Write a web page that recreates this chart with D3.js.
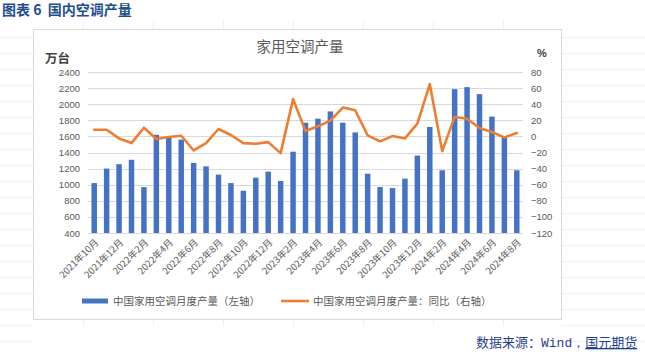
<!DOCTYPE html>
<html>
<head>
<meta charset="utf-8">
<script src="https://cdn.jsdelivr.net/npm/d3@7"></script>
<style>
  html, body { margin: 0; padding: 0; background: #fff; }
  svg { display: block; }
</style>
</head>
<body>
<svg id="chart" width="645" height="352"></svg>
<script>
const months = [
  "2021年10月","2021年11月","2021年12月","2022年1月","2022年2月","2022年3月","2022年4月","2022年5月",
  "2022年6月","2022年7月","2022年8月","2022年9月","2022年10月","2022年11月","2022年12月","2023年1月",
  "2023年2月","2023年3月","2023年4月","2023年5月","2023年6月","2023年7月","2023年8月","2023年9月",
  "2023年10月","2023年11月","2023年12月","2024年1月","2024年2月","2024年3月","2024年4月","2024年5月",
  "2024年6月","2024年7月","2024年8月"
];
const output = [
  1020, 1200, 1255, 1310, 970, 1620, 1595, 1560,
  1270, 1228, 1125, 1020, 925, 1087, 1162, 1046,
  1410, 1770, 1820, 1910, 1770, 1650, 1137, 971,
  958, 1075, 1362, 1717, 1179, 2187, 2212, 2125,
  1846, 1600, 1179
];
const yoy = [
  8.3, 8.3, -2.5, -8.3, 10.8, -3.3, -0.8, 0.8,
  -17.5, -8.3, 9.2, 1.7, -8.3, -9.2, -7.1, -20.8,
  46.3, 6.7, 12.5, 19.6, 35.8, 32.5, 1.2, -6.2,
  0.4, -2.5, 15.8, 65, -18.3, 24.2, 22, 10.4,
  5.4, -1.2, 4.2
];
const leftTicks = [400,600,800,1000,1200,1400,1600,1800,2000,2200,2400];
const rightTicks = [-120,-100,-80,-60,-40,-20,0,20,40,60,80];
const chartTitle = "家用空调产量";
const figureTitle = "图表 6  国内空调产量";
const seriesNames = ["中国家用空调月度产量（左轴）", "中国家用空调月度产量：同比（右轴）"];

const svg = d3.select("#chart");
const cjk = "'Noto Sans CJK SC', 'Noto Sans', sans-serif";
const num = "'Liberation Sans', Arial, sans-serif";
const textGray = "#595959";

// faint spreadsheet gridlines outside the chart frame
const sheet = svg.append("g").attr("stroke", "#f0f0f0").attr("stroke-width", 1);
d3.range(37, 352, 16).forEach(y => {
  sheet.append("line").attr("x1", 0).attr("x2", 33).attr("y1", y + 0.5).attr("y2", y + 0.5);
  sheet.append("line").attr("x1", 562).attr("x2", 645).attr("y1", y + 0.5).attr("y2", y + 0.5);
});
[83, 153, 223, 293, 363, 433, 503].forEach(x => {
  sheet.append("line").attr("x1", x + 0.5).attr("x2", x + 0.5).attr("y1", 20).attr("y2", 29);
  sheet.append("line").attr("x1", x + 0.5).attr("x2", x + 0.5).attr("y1", 320).attr("y2", 326);
});

// figure title
svg.append("text").attr("x", 2).attr("y", 15)
  .attr("font-family", cjk).attr("font-size", 14).attr("font-weight", "bold")
  .attr("fill", "#1f4e8c").attr("xml:space", "preserve").style("white-space", "pre")
  .text(figureTitle);

// chart frame
svg.append("rect").attr("x", 33.5).attr("y", 29.5).attr("width", 528).attr("height", 290)
  .attr("fill", "#fff").attr("stroke", "#d9d9d9").attr("stroke-width", 1);

const plot = { left: 88, right: 523, top: 72, bottom: 233 };

const x = d3.scaleBand().domain(months).range([plot.left, plot.right]).paddingInner(0.56).paddingOuter(0.28);
const yL = d3.scaleLinear().domain([400, 2400]).range([plot.bottom, plot.top]);
const yR = d3.scaleLinear().domain([-120, 80]).range([plot.bottom, plot.top]);

// gridlines
svg.append("g")
  .selectAll("line").data(leftTicks).join("line")
  .attr("x1", plot.left).attr("x2", plot.right)
  .attr("y1", d => Math.round(yL(d)) + 0.5).attr("y2", d => Math.round(yL(d)) + 0.5)
  .attr("stroke", "#d9d9d9").attr("stroke-width", 1);

// left axis
const axL = d3.axisLeft(yL).tickValues(leftTicks).tickFormat(d3.format("d")).tickSize(0).tickPadding(8);
const gL = svg.append("g").attr("transform", `translate(${plot.left},0)`).call(axL);
gL.select(".domain").remove();
gL.selectAll("text").attr("font-family", num).attr("font-size", 9.5).attr("fill", textGray);

// right axis
const axR = d3.axisRight(yR).tickValues(rightTicks).tickFormat(d3.format("d")).tickSize(0).tickPadding(8);
const gR = svg.append("g").attr("transform", `translate(${plot.right},0)`).call(axR);
gR.select(".domain").remove();
gR.selectAll("text").attr("font-family", num).attr("font-size", 9.5).attr("fill", textGray);

// bottom axis (labels every other month)
const axB = d3.axisBottom(x).tickValues(months.filter((d, i) => i % 2 === 0)).tickSize(0).tickPadding(0);
const gB = svg.append("g").attr("transform", `translate(0,${plot.bottom})`).call(axB);
gB.select(".domain").remove();
gB.selectAll("text")
  .attr("font-family", cjk).attr("font-size", 9.5).attr("fill", textGray)
  .attr("text-anchor", "end").attr("dy", 0)
  .attr("transform", "translate(5,10) rotate(-45)");

// bars
svg.append("g").selectAll("rect").data(output).join("rect")
  .attr("x", (d, i) => x(months[i]))
  .attr("width", x.bandwidth())
  .attr("y", d => yL(d))
  .attr("height", d => yL(400) - yL(d))
  .attr("fill", "#4472C4");

// line
const line = d3.line()
  .x((d, i) => x(months[i]) + x.bandwidth() / 2)
  .y(d => yR(d));
svg.append("path").datum(yoy)
  .attr("d", line)
  .attr("fill", "none").attr("stroke", "#ED7D31").attr("stroke-width", 2.6)
  .attr("stroke-linejoin", "round").attr("stroke-linecap", "round");

// chart title
svg.append("text").attr("x", 300).attr("y", 52).attr("text-anchor", "middle")
  .attr("font-family", cjk).attr("font-size", 14.5).attr("fill", textGray).text(chartTitle);

// axis unit labels
svg.append("text").attr("x", 45).attr("y", 63)
  .attr("font-family", cjk).attr("font-size", 12.5).attr("font-weight", "bold").attr("fill", "#404040").text("万台");
svg.append("text").attr("x", 537).attr("y", 57)
  .attr("font-family", num).attr("font-size", 11).attr("font-weight", "bold").attr("fill", "#404040").text("%");

// legend
const lg = svg.append("g");
lg.append("rect").attr("x", 82).attr("y", 298.5).attr("width", 26).attr("height", 5).attr("fill", "#4472C4");
lg.append("text").attr("x", 113).attr("y", 304.5)
  .attr("font-family", cjk).attr("font-size", 10.5).attr("fill", textGray).text(seriesNames[0]);
lg.append("line").attr("x1", 281).attr("x2", 309).attr("y1", 301).attr("y2", 301)
  .attr("stroke", "#ED7D31").attr("stroke-width", 2.6);
lg.append("text").attr("x", 313).attr("y", 304.5)
  .attr("font-family", cjk).attr("font-size", 10.5).attr("fill", textGray).text(seriesNames[1]);

// source
const src = svg.append("text").attr("x", 476).attr("y", 347)
  .attr("font-family", cjk).attr("font-size", 13).attr("fill", "#1f3f8f");
src.append("tspan").text("数据来源：");
src.append("tspan").attr("font-family", "'Liberation Mono', 'DejaVu Sans Mono', monospace").text("Wind，");
src.append("tspan").attr("text-decoration", "underline").text("国元期货");
</script>
</body>
</html>
